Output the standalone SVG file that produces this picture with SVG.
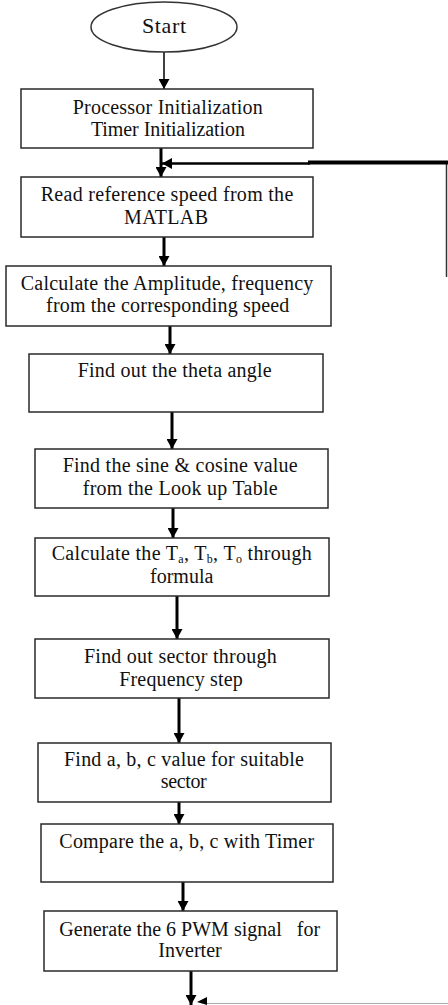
<svg xmlns="http://www.w3.org/2000/svg" width="448" height="1005" viewBox="0 0 448 1005">
<style>
.box{fill:#fff;stroke:#2a2a2a;stroke-width:1.5}
.t{font-family:"Liberation Serif","Times New Roman",serif;font-size:20px;fill:#111;text-anchor:middle}
.a{stroke:#000;stroke-width:3;fill:none}
.thin{stroke:#000;stroke-width:1.5;fill:none}
.sub{font-size:12px}
</style>
<defs>
<marker id="ah" markerUnits="userSpaceOnUse" markerWidth="11" markerHeight="11" refX="10" refY="5.5" orient="auto">
<path d="M0,0 L10,5.5 L0,11 Z" fill="#000"/>
</marker>
</defs>
<rect width="448" height="1005" fill="#fff"/>
<g id="connectors">
<line class="thin" x1="164" y1="52" x2="164" y2="89" marker-end="url(#ah)"/>
<line class="a" x1="161" y1="148" x2="161" y2="177" marker-end="url(#ah)"/>
<line class="a" x1="164" y1="237" x2="164" y2="266" marker-end="url(#ah)"/>
<line class="a" x1="170" y1="326" x2="170" y2="354" marker-end="url(#ah)"/>
<line class="a" x1="172" y1="412" x2="172" y2="449" marker-end="url(#ah)"/>
<line class="a" x1="173" y1="508" x2="173" y2="538" marker-end="url(#ah)"/>
<line class="a" x1="177" y1="596" x2="177" y2="639" marker-end="url(#ah)"/>
<line class="a" x1="179" y1="698" x2="179" y2="743" marker-end="url(#ah)"/>
<line class="a" x1="179" y1="802" x2="179" y2="824" marker-end="url(#ah)"/>
<line class="a" x1="183" y1="882" x2="183" y2="911" marker-end="url(#ah)"/>
<line class="a" x1="191" y1="971" x2="191" y2="1005" marker-end="url(#ah)"/>
<line x1="446.5" y1="161" x2="446.5" y2="277" stroke="#333" stroke-width="1.5"/>
<line x1="308" y1="162.5" x2="448" y2="162.5" stroke="#000" stroke-width="4"/>
<line x1="310" y1="163.5" x2="162" y2="163.5" stroke="#000" stroke-width="2.5" marker-end="url(#ah)"/>
<line x1="448" y1="1003.5" x2="205" y2="1003.5" stroke="#aaa" stroke-width="1"/>
<path d="M197,1002 L207,997 L207,1005 Z" fill="#000"/>
</g>
<g id="start">
<ellipse cx="164" cy="27" rx="73" ry="25" fill="#fff" stroke="#333" stroke-width="1.5"/>
<text class="t" x="164" y="33" style="font-size:22px" textLength="44">Start</text>
</g>
<g id="init">
<rect class="box" x="21" y="89" width="292" height="59"/>
<text class="t" x="167.7" y="114" textLength="190">Processor Initialization</text>
<text class="t" x="167.9" y="136" textLength="154">Timer Initialization</text>
</g>
<g id="read">
<rect class="box" x="21" y="177" width="292" height="60"/>
<text class="t" x="167" y="200.5" textLength="252.6">Read reference speed from the</text>
<text class="t" x="166" y="224" textLength="84">MATLAB</text>
</g>
<g id="amp">
<rect class="box" x="6" y="266" width="325" height="60"/>
<text class="t" x="167" y="290" textLength="292.6">Calculate the Amplitude, frequency</text>
<text class="t" x="167.7" y="312" textLength="243.3">from the corresponding speed</text>
</g>
<g id="theta">
<rect class="box" x="29" y="354" width="294" height="58"/>
<text class="t" x="174.7" y="377" textLength="194">Find out the theta angle</text>
</g>
<g id="sine">
<rect class="box" x="35" y="449" width="293" height="59"/>
<text class="t" x="180.2" y="471.5" textLength="235">Find the sine &amp; cosine value</text>
<text class="t" x="180.2" y="495" textLength="195">from the Look up Table</text>
</g>
<g id="ta">
<rect class="box" x="35" y="538" width="294" height="58"/>
<text class="t" x="181.7" y="560" textLength="260">Calculate the T<tspan class="sub" dy="3">a</tspan><tspan dy="-3">, T</tspan><tspan class="sub" dy="3">b</tspan><tspan dy="-3">, T</tspan><tspan class="sub" dy="3">o</tspan><tspan dy="-3"> through</tspan></text>
<text class="t" x="181.7" y="583" textLength="63.3">formula</text>
</g>
<g id="sector">
<rect class="box" x="35" y="639" width="294" height="59"/>
<text class="t" x="180.3" y="662.5" textLength="192.7">Find out sector through</text>
<text class="t" x="181" y="686" textLength="123.4">Frequency step</text>
</g>
<g id="abc">
<rect class="box" x="38" y="743" width="293" height="59"/>
<text class="t" x="184" y="766" textLength="240">Find a, b, c value for suitable</text>
<text class="t" x="183.7" y="788" textLength="46">sector</text>
</g>
<g id="compare">
<rect class="box" x="41" y="824" width="292" height="58"/>
<text class="t" x="186.7" y="848" textLength="254.7">Compare the a, b, c with Timer</text>
</g>
<g id="pwm">
<rect class="box" x="44" y="911" width="293" height="60"/>
<text class="t" x="189.7" y="935.5" textLength="260.7" xml:space="preserve">Generate the 6 PWM signal   for</text>
<text class="t" x="190" y="956.5" textLength="63.4">Inverter</text>
</g>
</svg>
